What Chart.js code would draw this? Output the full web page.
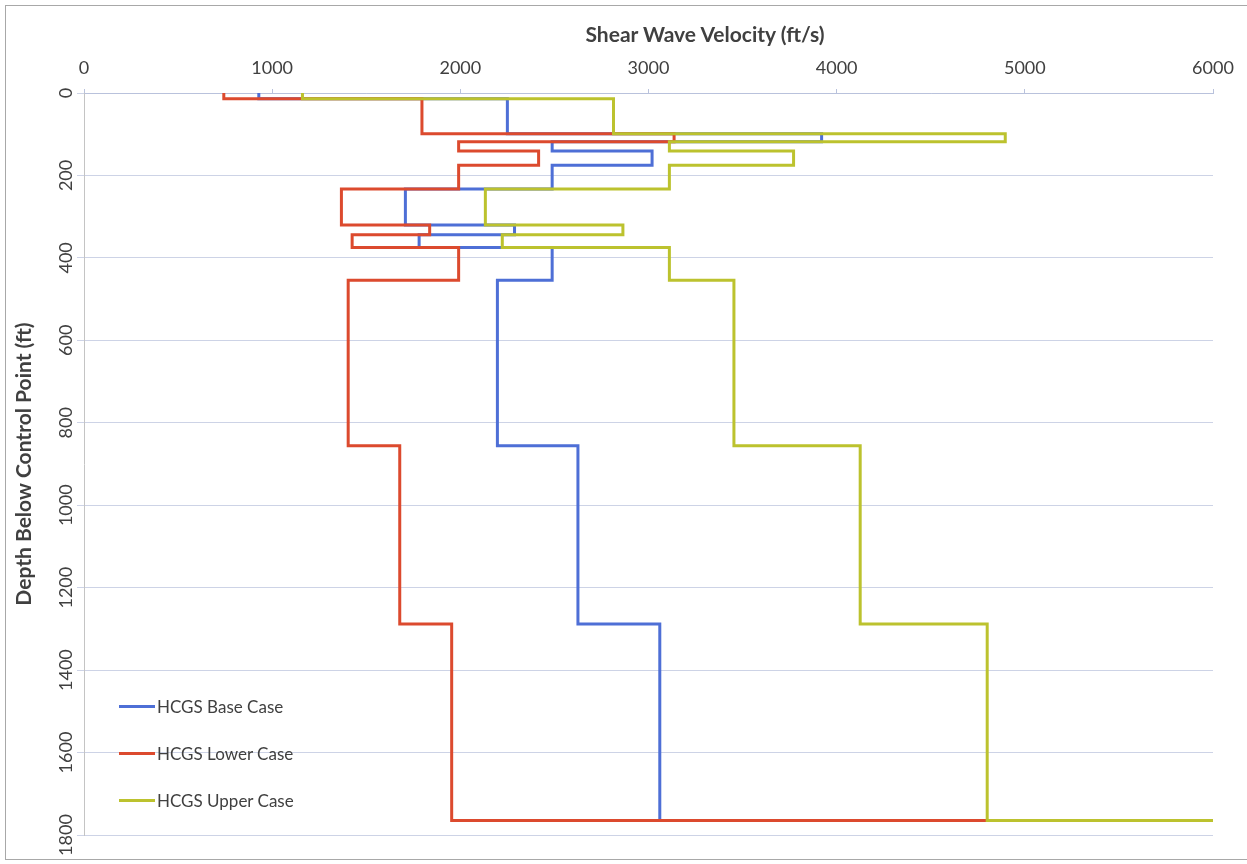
<!DOCTYPE html>
<html>
<head>
<meta charset="utf-8">
<script src="https://cdn.jsdelivr.net/npm/chart.js@4.4.1/dist/chart.umd.min.js"></script>
<style>
  html, body { margin: 0; padding: 0; background: #fff; }
  #wrap { position: relative; width: 1247px; height: 864px; font-family: Lato, "Open Sans", sans-serif; }
  #frame { position: absolute; left: 5px; top: 5px; width: 1250px; height: 855px; border: 1px solid #a8a8a8; box-sizing: border-box; pointer-events: none; }
  #xTitle { position: absolute; left: 705px; top: 33px; transform: translate(-50%, -50%); font-weight: bold; font-size: 21px; color: #404040; white-space: nowrap; }
  .leg { position: absolute; left: 119px; height: 20px; display: flex; align-items: center; font-size: 17px; color: #404040; white-space: nowrap; }
  .leg .swatch { width: 36px; height: 3px; margin-right: 2px; }
</style>
</head>
<body>
<div id="wrap">
  <canvas id="c" width="1247" height="864"></canvas>
  <div id="frame"></div>
  <div id="xTitle"></div>
  <div id="legend"></div>
</div>
<script>
// Layer boundaries (ft below control point) and shear wave velocity per layer (ft/s).
// The last velocity of each profile is the half-space below the deepest boundary.
const layerBoundaries = [0, 14, 99, 118, 141, 175, 233, 320, 344, 375, 454, 856, 1288, 1765];
const baseCase  = [929, 2250, 3920, 2488, 3019, 2488, 1708, 2288, 1781, 2488, 2197, 2625, 3060, 9285];
const lowerCase = [743, 1796, 3136, 1991, 2416, 1991, 1368, 1837, 1425, 1991, 1404, 1678, 1954, 9285];
const upperCase = [1161, 2814, 4896, 3111, 3771, 3111, 2133, 2864, 2223, 3111, 3454, 4125, 4800, 9285];

const seriesNames = ['HCGS Base Case', 'HCGS Lower Case', 'HCGS Upper Case'];
const seriesColors = ['#4e6fd6', '#dc4a2e', '#bcc22e'];

const xAxisTitle = 'Shear Wave Velocity (ft/s)';
const yAxisTitle = 'Depth Below Control Point (ft)';
const velocityTicks = [0, 1000, 2000, 3000, 4000, 5000, 6000];
const depthTicks = [0, 200, 400, 600, 800, 1000, 1200, 1400, 1600, 1800];

// Turn a layered profile into the corner points of a step line.
function stepProfile(velocities) {
  const pts = [];
  for (let i = 0; i < layerBoundaries.length - 1; i++) {
    pts.push({ x: velocities[i], y: layerBoundaries[i] });
    pts.push({ x: velocities[i], y: layerBoundaries[i + 1] });
  }
  pts.push({ x: velocities[velocities.length - 1], y: layerBoundaries[layerBoundaries.length - 1] });
  return pts;
}

const profiles = [baseCase, lowerCase, upperCase];

Chart.defaults.font.family = 'Lato, "Open Sans", sans-serif';
Chart.defaults.color = '#404040';

const datasets = profiles.map((p, i) => ({
  label: seriesNames[i],
  data: stepProfile(p),
  borderColor: seriesColors[i],
  backgroundColor: seriesColors[i],
  borderWidth: 3,
  pointRadius: 0,
  showLine: true,
  tension: 0,
  borderJoinStyle: 'miter',
  borderCapStyle: 'butt',
  order: 3 - i
}));

const plainNumber = v => String(v);

new Chart(document.getElementById('c'), {
  type: 'scatter',
  data: { datasets },
  options: {
    responsive: false,
    animation: false,
    events: [],
    layout: { padding: { left: 0, top: 0, right: 34, bottom: 29 } },
    plugins: { legend: { display: false }, tooltip: { enabled: false } },
    scales: {
      x: {
        type: 'linear',
        position: 'top',
        min: velocityTicks[0],
        max: velocityTicks[velocityTicks.length - 1],
        afterBuildTicks: s => { s.ticks = velocityTicks.map(v => ({ value: v })); },
        afterFit: s => { s.height = 93; },
        grid: { drawOnChartArea: false, drawTicks: true, tickLength: 4, color: '#b9c2dc' },
        border: { color: '#b9c2dc', width: 1 },
        ticks: { font: { size: 18 }, padding: 10, color: '#404040', maxRotation: 0, callback: plainNumber }
      },
      y: {
        type: 'linear',
        reverse: true,
        min: depthTicks[0],
        max: depthTicks[depthTicks.length - 1],
        afterBuildTicks: s => { s.ticks = depthTicks.map(v => ({ value: v })); },
        afterFit: s => { s.width = 84; },
        grid: { color: '#cdd3e6', lineWidth: 1, tickLength: 7, drawTicks: true },
        border: { color: '#c4c4c4', width: 1 },
        ticks: { font: { size: 18 }, padding: -10, minRotation: 90, maxRotation: 90, crossAlign: 'center', autoSkip: false, color: '#404040', callback: plainNumber },
        title: { display: true, text: yAxisTitle, font: { size: 21, weight: 'bold' }, color: '#404040', padding: { top: 12, bottom: 0 } }
      }
    }
  }
});

// Axis title above the velocity ticks
document.getElementById('xTitle').textContent = xAxisTitle;

// Legend inside the lower-left corner of the plot
const legendTops = [696, 743, 790];
const legendEl = document.getElementById('legend');
seriesNames.forEach((name, i) => {
  const item = document.createElement('div');
  item.className = 'leg';
  item.style.top = legendTops[i] + 'px';
  const sw = document.createElement('span');
  sw.className = 'swatch';
  sw.style.background = seriesColors[i];
  const tx = document.createElement('span');
  tx.textContent = name;
  item.appendChild(sw);
  item.appendChild(tx);
  legendEl.appendChild(item);
});
</script>
</body>
</html>
